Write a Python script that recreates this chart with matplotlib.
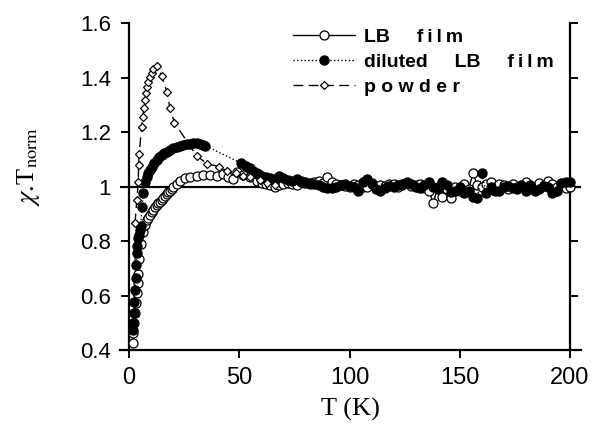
import matplotlib
matplotlib.use("Agg")
import matplotlib.pyplot as plt

# LB film (open circles)
T_lb = [1.8, 2.0, 2.3, 2.7, 3.2, 3.5, 3.9, 4.2, 4.7, 5.4,
        6.5, 7.2, 8.0, 8.8, 9.5, 10.3, 11.0, 11.8, 12.6, 13.3,
        14.1, 14.8, 15.6, 16.3, 17.1, 17.8, 18.6, 19.3, 20.1, 21.6,
        23.1, 25.4, 27.7, 30.7, 33.7, 36.7, 39.8, 42.8, 45.0, 47.0,
        48.8, 51.8, 54.9, 58.0, 60.5,
        62, 64, 66, 68, 70, 72, 74, 76, 78, 80,
        82, 84, 86, 88, 90, 92, 94, 96, 98, 100,
        102, 104, 106, 108, 110, 112, 114, 116, 118, 120,
        122, 124, 126, 128, 130, 132, 134, 136, 138, 140,
        142, 144, 146, 148, 150, 152, 154, 156, 158, 160,
        162, 164, 166, 168, 170, 172, 174, 176, 178, 180,
        182, 184, 186, 188, 190, 192, 194, 196, 198, 200]
chi_lb = [0.427, 0.463, 0.500, 0.535, 0.571, 0.608, 0.645, 0.679, 0.733, 0.789,
          0.834, 0.857, 0.877, 0.886, 0.895, 0.905, 0.914, 0.923, 0.932, 0.938,
          0.944, 0.950, 0.957, 0.964, 0.971, 0.978, 0.985, 0.992, 1.000, 1.011,
          1.021, 1.030, 1.036, 1.040, 1.042, 1.042, 1.040, 1.046, 1.035, 1.028,
          1.054, 1.042, 1.036, 1.022, 1.012,
          1.010, 1.004, 1.000, 1.006, 1.010, 1.012, 1.008, 1.005, 1.015, 1.012,
          1.010, 1.018, 1.020, 1.012, 1.036, 1.015, 1.010, 1.005, 1.003, 1.000,
          1.008, 1.005, 1.000, 0.998, 1.012, 1.000, 1.005, 1.003, 1.010, 1.008,
          1.000, 1.005, 1.012, 1.002, 1.005, 1.010, 0.995, 0.985, 0.938, 1.000,
          0.963, 0.990, 0.957, 1.000, 0.985, 1.010, 0.990, 1.048, 1.005, 1.000,
          1.008, 1.015, 1.000, 1.010, 1.005, 0.992, 1.010, 1.000, 1.002, 1.015,
          1.000, 0.995, 1.012, 1.005, 1.020, 1.008, 1.000, 1.005, 0.995, 1.000]

# diluted LB film (filled circles)
T_dil = [1.8, 2.0, 2.2, 2.4, 2.7, 3.0, 3.2, 3.5, 3.8, 4.2,
         4.6, 5.0, 5.3, 5.8, 6.5, 7.3, 8.0, 8.8, 9.5, 10.3,
         11.5, 12.6, 13.7, 14.8, 16.0, 17.1, 18.6, 20.1, 21.6, 23.1,
         24.6, 26.2, 27.7, 29.2, 30.7, 32.2, 33.5, 34.5, 51.0, 52.9,
         54.9, 56.4, 57.9, 59.4, 60.9,
         62, 64, 66, 68, 70, 72, 74, 76, 78, 80,
         82, 84, 86, 88, 90, 92, 94, 96, 98, 100,
         102, 104, 106, 108, 110, 112, 114, 116, 118, 120,
         122, 124, 126, 128, 130, 132, 134, 136, 138, 140,
         142, 144, 146, 148, 150, 152, 154, 156, 158, 160,
         162, 164, 166, 168, 170, 172, 174, 176, 178, 180,
         182, 184, 186, 188, 190, 192, 194, 196, 198, 200]
chi_dil = [0.473, 0.500, 0.535, 0.577, 0.620, 0.663, 0.712, 0.755, 0.780, 0.810,
           0.822, 0.840, 0.855, 0.924, 0.975, 1.018, 1.035, 1.048, 1.060, 1.073,
           1.085, 1.097, 1.107, 1.116, 1.122, 1.128, 1.134, 1.140, 1.145, 1.149,
           1.153, 1.156, 1.157, 1.158, 1.158, 1.156, 1.153, 1.150, 1.085, 1.076,
           1.067, 1.057, 1.048, 1.042, 1.036,
           1.034, 1.030, 1.028, 1.040, 1.032, 1.025, 1.022, 1.026, 1.020, 1.015,
           1.012, 1.008, 1.005, 1.000, 0.995, 0.993, 1.000, 1.005, 1.010, 1.002,
           0.998, 0.985, 1.015, 1.028, 1.010, 0.992, 0.985, 0.995, 1.002, 0.998,
           1.005, 1.010, 1.015, 1.008, 1.000, 0.993, 1.005, 1.016, 1.000, 0.990,
           1.016, 1.005, 0.980, 0.985, 1.000, 0.975, 0.985, 0.962, 0.958, 1.050,
           0.975, 1.000, 0.985, 0.982, 1.000, 1.002, 0.995, 0.990, 1.005, 0.985,
           1.005, 0.982, 0.990, 1.002, 0.998, 0.975, 0.985, 1.012, 1.015, 1.018]

# powder (diamonds)
T_pow = [2.7, 3.5, 4.2, 4.3, 4.6, 5.7, 6.2, 6.8, 7.3, 7.7,
         8.3, 8.8, 9.5, 10.3, 11.0, 12.6, 14.8, 17.1, 18.6, 20.6,
         30.7, 35.5, 41.0, 44.3, 48.5, 51.5, 54.9, 59.4, 62.4, 66.0]
chi_pow = [0.865, 0.950, 1.018, 1.080, 1.118, 1.220, 1.256, 1.287, 1.317, 1.342,
           1.364, 1.385, 1.403, 1.418, 1.431, 1.442, 1.405, 1.348, 1.287, 1.234,
           1.112, 1.083, 1.073, 1.057, 1.048, 1.040, 1.036, 1.024, 1.014, 1.005]

x_ticks = [0, 50, 100, 150, 200]
y_ticks = [0.4, 0.6, 0.8, 1.0, 1.2, 1.4, 1.6]

film = 'f\u2009i\u2009l\u2009m'
labels = ['LB     ' + film, 'diluted     LB     ' + film, 'p o w d e r']

plt.rcParams['font.family'] = ['Liberation Sans', 'DejaVu Sans']
plt.rcParams['mathtext.fontset'] = 'stix'

fig = plt.figure(figsize=(5.98, 4.26), dpi=100)
ax = fig.add_axes([0.2007, 0.1784, 0.7709, 0.7676])

ax.axhline(1.0, color='black', lw=1.6, zorder=1)

ax.plot(T_lb, chi_lb, '-', color='black', lw=1.0, marker='o', ms=6.5,
        mfc='white', mec='black', mew=0.9, label=labels[0], zorder=3)
ax.plot(T_dil, chi_dil, ':', color='black', lw=1.0, marker='o', ms=6.5,
        mfc='black', mec='black', label=labels[1], zorder=4)
ax.plot(T_pow, chi_pow, color='black', lw=1.0, ls=(0, (7, 4)), marker='D', ms=4.5,
        mfc='white', mec='black', mew=0.9, label=labels[2], zorder=5)

ax.set_xlim(-4.1, 205)
ax.set_ylim(0.4, 1.6)
ax.set_xticks(x_ticks)
ax.set_yticks(y_ticks)
ax.set_yticklabels(['%g' % v for v in y_ticks])

ax.spines['top'].set_visible(False)
ax.spines['left'].set_position(('data', 0))
ax.spines['right'].set_position(('data', 200))
for s in ['left', 'right', 'bottom']:
    ax.spines[s].set_linewidth(1.6)

ax.tick_params(axis='both', direction='out', length=6, width=1.4)
ax.tick_params(axis='y', right=True, labelright=False, pad=7, labelsize=16)
ax.tick_params(axis='x', pad=6, labelsize=17)

ax.set_xlabel('T (K)', family='Liberation Serif', fontsize=19, labelpad=7)
ax.set_ylabel(r'$\chi$.T$_{\rm norm}$', family='Liberation Serif', fontsize=19)
ax.yaxis.set_label_coords(-0.17, 0.56)

leg = ax.legend(loc='upper left', bbox_to_anchor=(0.375, 0.985), frameon=False,
                prop={'family': 'Liberation Sans', 'weight': 'bold', 'size': 14},
                handlelength=3.2, handletextpad=0.45, labelspacing=0.4,
                borderpad=0, borderaxespad=0)

fig.savefig('out.png', dpi=100)
